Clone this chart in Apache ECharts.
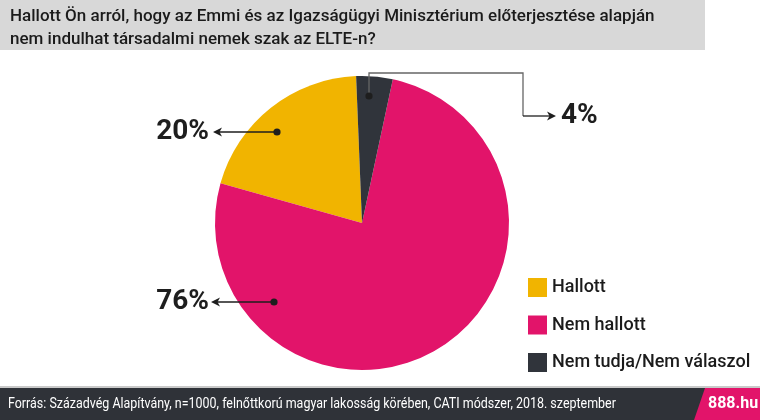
<!DOCTYPE html>
<html><head><meta charset="utf-8">
<script src="https://cdn.jsdelivr.net/npm/echarts@6/dist/echarts.min.js"></script>
<style>html,body{margin:0;padding:0;background:#fff}#c{width:760px;height:420px}</style>
</head><body><div id="c"></div>
<script>
const categories = ['Hallott', 'Nem hallott', 'Nem tudja/Nem válaszol'];
const values = [20, 76, 4];
const colors = ['#f1b400', '#e2146a', '#30343b'];
const titleText = 'Hallott Ön arról, hogy az Emmi és az Igazságügyi Minisztérium előterjesztése alapján\nnem indulhat társadalmi nemek szak az ELTE-n?';
const sourceText = 'Forrás: Századvég Alapítvány, n=1000, felnőttkorú magyar lakosság körében, CATI módszer, 2018. szeptember';
const brandText = '888.hu';

// annotation layout (label anchor, leader line points)
const labelPos = [
  {x: 209, y: 132, align: 'right', color: '#1e1e1e', pts: [[277,132],[213,132]]},
  {x: 209, y: 302, align: 'right', color: '#1e1e1e', pts: [[274,302],[211,302]]},
  {x: 561, y: 116, align: 'left', color: '#666666', pts: [[369,96],[369,73],[523,73],[523,116],[556,116]]}
];

const chart = echarts.init(document.getElementById('c'), null, {renderer: 'canvas'});

const graphics = [
  {type:'rect', shape:{x:0,y:0,width:705,height:50}, style:{fill:'#d8d8d8'}, z:0},
  {type:'text', x:10, y:5, style:{text:titleText, font:'500 17px Roboto', fill:'#1b1b1b', lineHeight:23}},
  {type:'rect', shape:{x:0,y:386,width:760,height:2}, style:{fill:'#c9c9c9'}},
  {type:'rect', shape:{x:0,y:388,width:760,height:32}, style:{fill:'#2f3238'}},
  {type:'polygon', shape:{points:[[705,388],[760,388],[760,420],[694,420]]}, style:{fill:'#e2146a'}},
  {type:'text', x:8, y:404, scaleX:0.89, style:{text:sourceText, font:'14px Roboto', fill:'#ffffff', verticalAlign:'middle'}},
  {type:'text', x:708, y:404, style:{text:brandText, font:'bold 16px Roboto', fill:'#ffffff', verticalAlign:'middle'}}
];
labelPos.forEach(function(p){
  const s = p.pts[0];
  const e = p.pts[p.pts.length-1];
  const last = p.pts.length > 2 ? p.pts.slice(0, -1) : [s];
  if (p.pts.length > 2) {
    graphics.push({type:'polyline', shape:{points:last}, style:{stroke:p.color, lineWidth:1.3, fill:null}, z:10});
  }
  const segStart = last[last.length-1];
  graphics.push({type:'line', shape:{x1:segStart[0], y1:segStart[1], x2:e[0]+(p.align==='right'?4:-4), y2:e[1]}, style:{stroke:'#1e1e1e', lineWidth:1.3}, z:10});
  graphics.push({type:'circle', shape:{cx:s[0], cy:s[1], r:3.6}, style:{fill:'#1e1e1e'}, z:11});
  graphics.push({type:'polygon', shape:{points:
    p.align === 'right'
      ? [[e[0],e[1]],[e[0]+9,e[1]-4.5],[e[0]+6.5,e[1]],[e[0]+9,e[1]+4.5]]
      : [[e[0],e[1]],[e[0]-9,e[1]-4.5],[e[0]-6.5,e[1]],[e[0]-9,e[1]+4.5]]
  }, style:{fill:'#1e1e1e'}, z:11});
});

chart.setOption({
  animation: false,
  color: colors,
  legend: {
    orient: 'vertical', left: 523, top: 273,
    itemWidth: 19, itemHeight: 19, itemGap: 18.5,
    icon: 'rect',
    data: categories,
    textStyle: {fontFamily: 'Roboto', fontSize: 18, fontWeight: 500, color: '#1b1b1b'}
  },
  graphic: graphics,
  series: [{
    type: 'pie',
    center: [362, 223],
    radius: [0, 147],
    startAngle: 92.3,
    clockwise: false,
    silent: true,
    data: categories.map(function(n, i){ return {name: n, value: values[i]}; }),
    label: {
      show: true, position: 'outside',
      formatter: '{c}%',
      fontFamily: 'Roboto', fontWeight: 'bold', fontSize: 28, color: '#1e1e1e'
    },
    labelLine: {show: false},
    labelLayout: function(params){
      const p = labelPos[params.dataIndex];
      return {x: p.x, y: p.y, align: p.align, verticalAlign: 'middle'};
    },
    itemStyle: {borderWidth: 0}
  }]
});
</script></body></html>
